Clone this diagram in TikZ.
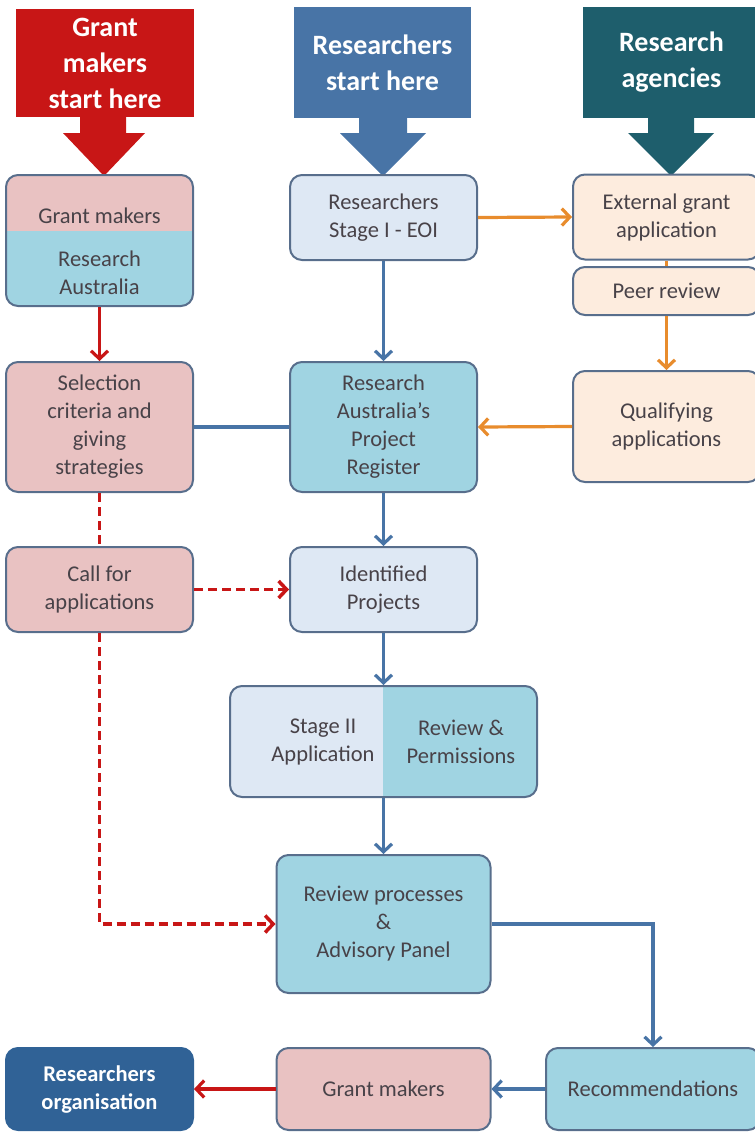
\documentclass[tikz,border=0pt]{standalone}
\usepackage{fontspec}
\setmainfont{Carlito}
\usetikzlibrary{arrows.meta}
\definecolor{redc}{RGB}{200,22,22}
\definecolor{bluec}{RGB}{72,116,166}
\definecolor{tealc}{RGB}{30,94,108}
\definecolor{orgc}{RGB}{232,140,45}
\definecolor{pinkf}{RGB}{233,194,194}
\definecolor{lbluef}{RGB}{160,212,226}
\definecolor{pbluef}{RGB}{222,232,244}
\definecolor{peachf}{RGB}{253,236,222}
\definecolor{darkbf}{RGB}{48,98,150}
\definecolor{borderc}{RGB}{88,110,140}
\definecolor{txtc}{RGB}{72,66,72}
\tikzset{
  box/.style={draw=borderc, line width=2, rounded corners=12, inner sep=0,
    align=center, text=txtc, font=\fontsize{22.5}{28}\selectfont},
  txt/.style={inner sep=0, align=center, text=txtc, font=\fontsize{22.5}{28}\selectfont},
  hdr/.style={inner sep=0, align=center, text=white,
    font=\bfseries\fontsize{28}{36}\selectfont},
  arr/.style={-{Straight Barb[length=8pt,width=17pt]}},
  conn/.style={line width=3.2},
  dsh/.style={line width=3.5, dash pattern=on 9pt off 5pt}
}
\begin{document}
\begin{tikzpicture}[x=1pt,y=-1pt]
\useasboundingbox (0,0) rectangle (755,1133);

% header arrows
\node[hdr, fill=redc, minimum width=178, minimum height=108] (hg) at (105,63) {Grant\\makers\\start here};
\fill[redc] (80,116) -- (80,133) -- (63,133) -- (104,176) -- (145,133) -- (126,133) -- (126,116) -- cycle;
\node[hdr, fill=bluec, minimum width=177, minimum height=111] (hr) at (382.5,62.5) {Researchers\\start here};
\fill[bluec] (359,117) -- (359,133) -- (340,133) -- (383,176) -- (426,133) -- (407,133) -- (407,117) -- cycle;
\node[hdr, fill=tealc, minimum width=177, minimum height=111] (ha) at (671.5,62.5) {Research\\agencies};
\fill[tealc] (648,117) -- (648,133) -- (628,133) -- (671,176) -- (714,133) -- (694,133) -- (694,117) -- cycle;

% row 1
\node[box, minimum width=187, minimum height=131,
  path picture={
    \fill[pinkf, sharp corners] (path picture bounding box.north west) rectangle ([yshift=-56pt]path picture bounding box.north east);
    \fill[lbluef, sharp corners] ([yshift=-56pt]path picture bounding box.north west) rectangle (path picture bounding box.south east);
  }] (gm) at (99.5,240.5) {};
\node[txt] (gmt) at (99.5,216) {Grant makers};
\node[txt] (rat) at (99.5,273) {Research\\Australia};

\node[box, fill=pbluef, minimum width=187, minimum height=85] (s1) at (383.5,217.5) {Researchers\\Stage I - EOI};
\node[box, fill=peachf, minimum width=187, minimum height=85] (ext) at (666.5,217) {External grant\\application};
\node[box, fill=peachf, minimum width=187, minimum height=48] (peer) at (666.5,291) {Peer review};

% row 2
\node[box, fill=pinkf, minimum width=187, minimum height=130] (sel) at (99.5,427) {Selection\\criteria and\\giving\\strategies};
\node[box, fill=lbluef, minimum width=187, minimum height=130] (reg) at (383.5,427) {Research\\Australia's\\Project\\Register};
\node[box, fill=peachf, minimum width=187, minimum height=111] (qual) at (666.5,426.5) {Qualifying\\applications};

% row 3
\node[box, fill=pinkf, minimum width=187, minimum height=85] (call) at (99.5,589.5) {Call for\\applications};
\node[box, fill=pbluef, minimum width=187, minimum height=85] (ident) at (383.5,589.5) {Identified\\Projects};

% stage II
\node[box, minimum width=307, minimum height=111,
  path picture={
    \fill[pbluef, sharp corners] (path picture bounding box.north west) rectangle ([xshift=153pt]path picture bounding box.south west);
    \fill[lbluef, sharp corners] ([xshift=153pt]path picture bounding box.north west) rectangle (path picture bounding box.south east);
  }] (st2) at (383.5,741.5) {};
\node[txt] (st2l) at (323,742) {Stage II\\Application};
\node[txt] (st2r) at (461,742) {Review \&\\Permissions};

% review
\node[box, fill=lbluef, minimum width=214, minimum height=138] (rev) at (383.5,924) {Review processes\\\&\\Advisory Panel};

% bottom row
\node[box, fill=lbluef, minimum width=214, minimum height=82] (recs) at (653,1089) {Recommendations};
\node[box, fill=pinkf, minimum width=214, minimum height=82] (gm2) at (383.5,1089) {Grant makers};
\node[box, fill=darkbf, draw=darkbf, text=white, font=\bfseries\fontsize{22.5}{28}\selectfont,
  minimum width=187, minimum height=82] (org) at (99.5,1089) {Researchers\\organisation};

% connectors
\draw[conn, redc, arr] (gm.south) -- (sel.north);
\draw[conn, bluec, arr] (s1.south) -- (reg.north);
\draw[conn, orgc, arr] (s1.east) -- (ext.west);
\draw[conn, orgc] (ext.south) -- (peer.north);
\draw[conn, orgc, arr] (peer.south) -- (qual.north);
\draw[conn, orgc, arr] (qual.west) -- (reg.east);
\draw[conn, bluec] (sel.east) -- (reg.west);
\draw[conn, bluec, arr] (reg.south) -- (ident.north);
\draw[dsh, redc] (sel.south) -- (call.north);
\draw[dsh, redc, arr] (call.east) -- (ident.west);
\draw[conn, bluec, arr] (ident.south) -- (st2.north);
\draw[conn, bluec, arr] (st2.south) -- (rev.north);
\draw[dsh, redc, arr] (call.south) |- (rev.west);
\draw[conn, bluec, arr] (rev.east) -| (recs.north);
\draw[conn, bluec, arr] (recs.west) -- (gm2.east);
\draw[conn, redc, arr] (gm2.west) -- (org.east);
\end{tikzpicture}
\end{document}
